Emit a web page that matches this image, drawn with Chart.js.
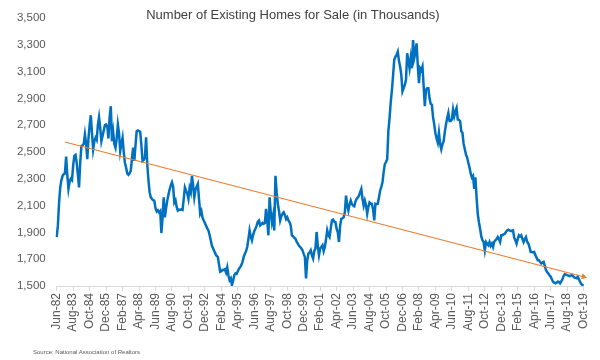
<!DOCTYPE html>
<html>
<head>
<meta charset="utf-8">
<script src="https://cdn.jsdelivr.net/npm/chart.js@4.4.0/dist/chart.umd.min.js"></script>
<style>
body { margin: 0; background: #fff; }
#wrap { position: relative; width: 600px; height: 360px; }
#source { position: absolute; left: 33px; top: 349px; font: 6px 'Liberation Sans', Arial, sans-serif; color: #595959; white-space: nowrap; }
</style>
</head>
<body>
<div id="wrap">
  <canvas id="chart" width="600" height="360"></canvas>
  <div id="source">Source: National Association of Realtors</div>
</div>
<script>
const chartTitle = 'Number of Existing Homes for Sale (in Thousands)';
const monthNames = ['Jan', 'Feb', 'Mar', 'Apr', 'May', 'Jun', 'Jul', 'Aug', 'Sep', 'Oct', 'Nov', 'Dec'];
const startYear = 1982;
const startMonth = 5; // Jun
const labelEvery = 14;

// monthly inventory, Jun-82 .. Oct-19 (thousands)
const inventory = [
  1865, 1950, 2120, 2235, 2290, 2322, 2335,
  2340, 2465, 2330, 2226, 2280, 2300, 2290, 2400, 2470, 2478, 2420, 2330,
  2235, 2420, 2544, 2550, 2560, 2631, 2560, 2446, 2600, 2700, 2774, 2640,
  2520, 2580, 2606, 2590, 2700, 2759, 2680, 2581, 2620, 2660, 2700, 2705,
  2690, 2600, 2760, 2841, 2581, 2650, 2560, 2532, 2600, 2705, 2640, 2507,
  2560, 2606, 2500, 2420, 2384, 2340, 2330, 2340, 2360, 2450, 2532, 2433,
  2550, 2655, 2660, 2655, 2650, 2550, 2433, 2440, 2458, 2610, 2409, 2290,
  2200, 2161, 2150, 2140, 2137, 2080, 2056, 2065, 2050, 2060, 1895, 2010,
  2161, 2013, 2080, 2137, 2180, 2220, 2250, 2273, 2240, 2124, 2140, 2090,
  2063, 2070, 2068, 2072, 2068, 2150, 2235, 2211, 2190, 2150, 2230, 2200,
  2322, 2250, 2161, 2220, 2240, 2261, 2150, 2039, 2060, 2010, 1989, 1970,
  1950, 1930, 1915, 1880, 1840, 1800, 1780, 1760, 1740, 1725, 1717, 1660,
  1606, 1610, 1620, 1619, 1625, 1600, 1638, 1580, 1544, 1557, 1507, 1540,
  1581, 1594, 1590, 1610, 1630, 1640, 1656, 1680, 1717, 1740, 1760, 1791,
  1850, 1915, 1870, 1841, 1880, 1910, 1927, 1950, 1980, 1989, 1952, 1960,
  1970, 1964, 1970, 2076, 1990, 1878, 2161, 2050, 1976, 2026, 1915, 2322,
  2200, 2113, 2060, 1989, 2020, 2040, 2050, 2030, 2000, 2013, 1990, 1976,
  1950, 1878, 1870, 1860, 1853, 1830, 1816, 1800, 1791, 1780, 1767, 1740,
  1717, 1557, 1690, 1742, 1750, 1767, 1730, 1705, 1760, 1780, 1903, 1800,
  1730, 1780, 1790, 1804, 1760, 1791, 1850, 1915, 1880, 1865, 1930, 1989,
  1995, 1980, 1976, 1927, 1900, 1828, 1950, 2001, 2005, 2013, 2050, 2174,
  2100, 2063, 2110, 2137, 2110, 2100, 2095, 2130, 2150, 2160, 2174, 2200,
  2224, 2150, 2100, 2137, 2100, 2039, 2090, 2124, 2115, 2113, 2070, 1989,
  2113, 2110, 2113, 2160, 2211, 2240, 2273, 2350, 2409, 2425, 2446, 2655,
  2750, 2870, 2960, 3070, 3187, 3210, 3224, 3248, 3180, 3137, 3075, 2952,
  2976, 3000, 3038, 3236, 3180, 3124, 3200, 3124, 3335, 3200, 3240, 3310,
  3150, 3013, 3124, 3110, 3137, 2990, 2841, 2964, 2976, 2976, 2900, 2860,
  2853, 2760, 2705, 2640, 2600, 2569, 2643, 2560, 2520, 2557, 2581, 2650,
  2705, 2754, 2791, 2730, 2730, 2742, 2816, 2767, 2803, 2828, 2742, 2740,
  2730, 2655, 2643, 2560, 2520, 2480, 2458, 2420, 2384, 2340, 2310, 2322,
  2224, 2310, 2161, 2039, 1976, 1927, 1870, 1841, 1828, 1767, 1828, 1815,
  1804, 1828, 1800, 1816, 1791, 1830, 1841, 1850, 1865, 1850, 1828, 1878,
  1878, 1885, 1890, 1903, 1915, 1920, 1915, 1910, 1912, 1915, 1860, 1841,
  1816, 1850, 1878, 1870, 1878, 1850, 1828, 1850, 1865, 1830, 1816, 1791,
  1754, 1754, 1750, 1754, 1730, 1712, 1693, 1693, 1680, 1668, 1675, 1680,
  1650, 1619, 1605, 1594, 1580, 1569, 1550, 1532, 1525, 1520, 1525, 1532,
  1530, 1520, 1535, 1550, 1575, 1589, 1585, 1581, 1578, 1574, 1578, 1581,
  1575, 1564, 1560, 1557, 1569, 1550, 1532, 1515, 1507, 1502
];

// hand drawn trend arrow: start (Jan-83) and end (Oct-19)
const trendStartIndex = 7;
const trendStart = 2574;
const trendEnd = 1569;

const yMin = 1500;
const yMax = 3500;
const yStep = 200;

let labels = [];
for (let i = 0; i < inventory.length; i++) {
    let m = startMonth + i;
    let yy = (startYear + Math.floor(m / 12)) % 100;
    labels.push(monthNames[m % 12] + '-' + String(yy).padStart(2, '0'));
}

let trend = inventory.map(() => null);
trend[trendStartIndex] = trendStart;
trend[trend.length - 1] = trendEnd;

const font = "'Liberation Sans', Arial, sans-serif";

new Chart(document.getElementById('chart').getContext('2d'), {
    type: 'line',
    data: {
        labels: labels,
        datasets: [{
            data: inventory,
            borderColor: '#0070C0',
            borderWidth: 2.5,
            pointRadius: 0,
            tension: 0,
            order: 2
        }, {
            data: trend,
            borderColor: '#ED7D31',
            backgroundColor: '#ED7D31',
            borderWidth: 1.2,
            spanGaps: true,
            pointStyle: 'triangle',
            pointRadius: ctx => ctx.dataIndex === trend.length - 1 ? 3.5 : 0,
            pointRotation: 105,
            pointBorderWidth: 0,
            order: 1
        }]
    },
    options: {
        responsive: false,
        animation: false,
        events: [],
        layout: { padding: { left: 0, right: 14.3, top: 0, bottom: 0 } },
        plugins: {
            legend: { display: false },
            tooltip: { enabled: false },
            title: {
                display: true,
                text: chartTitle,
                color: '#404040',
                font: { family: font, size: 13, weight: 'normal' },
                padding: { top: 5, bottom: -5 }
            }
        },
        scales: {
            x: {
                offset: false,
                grid: { display: true, drawOnChartArea: false, drawTicks: true, tickLength: 5, color: '#D9D9D9' },
                border: { display: true, color: '#D9D9D9' },
                ticks: {
                    autoSkip: false,
                    maxRotation: 90,
                    minRotation: 90,
                    padding: 2,
                    color: '#595959',
                    font: { family: font, size: 12 },
                    callback: function (value, index) {
                        return index % labelEvery === 0 ? this.getLabelForValue(value) : null;
                    }
                },
                afterFit: scale => { scale.height = 74; }
            },
            y: {
                min: yMin,
                max: yMax,
                grid: { display: false, drawTicks: false },
                border: { display: false },
                ticks: {
                    stepSize: yStep,
                    padding: 11,
                    color: '#595959',
                    font: { family: font, size: 11.5 },
                    callback: v => v.toLocaleString('en-US')
                },
                afterFit: scale => { scale.width = 56.7; }
            }
        }
    }
});
</script>
</body>
</html>
